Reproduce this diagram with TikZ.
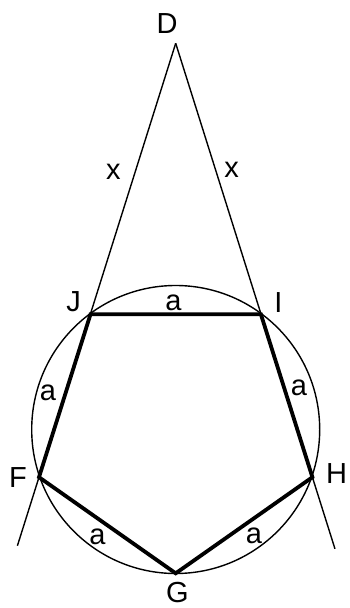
\documentclass[tikz,border=0pt]{standalone}
\usepackage{fontspec}
\setmainfont{Liberation Sans}
\usetikzlibrary{calc}
\begin{document}
\begin{tikzpicture}[x=1pt,y=-1pt,
  thinline/.style={line width=1.4pt,black},
  thickline/.style={line width=3.8pt,black,line join=miter},
  lbl/.style={inner sep=0pt,font=\fontsize{29}{34}\selectfont}]
\useasboundingbox (0,0) rectangle (349,608);
% points
\coordinate (D) at (175.7,43.3);
\coordinate (J) at (90.5,314.3);
\coordinate (I) at (260.9,314.3);
\coordinate (F) at (39,477.2);
\coordinate (H) at (312.4,477.2);
\coordinate (G) at (175.7,573.3);
\coordinate (O) at (175.7,429.5);
\coordinate (EL) at ($(D)!1.158!(F)$);
\coordinate (ER) at ($(D)!1.165!(H)$);
% circle
\draw[thinline] (O) circle[radius=144pt];
% long lines
\draw[thinline] (D) -- (EL);
\draw[thinline] (D) -- (ER);
% pentagon
\draw[thickline] (J) -- (I) -- (H) -- (G) -- (F) -- cycle;
% vertex labels
\node[lbl] (lD) at (167,24) {D};
\node[lbl] (lJ) at (73.5,302) {J};
\node[lbl] (lI) at (278.3,303) {I};
\node[lbl] (lF) at (18,478) {F};
\node[lbl] (lH) at (336.7,473.5) {H};
\node[lbl] (lG) at (177.5,593) {G};
% side labels
\node[lbl] (x1) at (113.3,171.5) {x};
\node[lbl] (x2) at (231.7,170) {x};
\node[lbl] (aT) at (173.5,303) {a};
\node[lbl] (aL) at (48,392.5) {a};
\node[lbl] (aR) at (299,388) {a};
\node[lbl] (aBL) at (97.5,536.7) {a};
\node[lbl] (aBR) at (254,536) {a};
\end{tikzpicture}
\end{document}
